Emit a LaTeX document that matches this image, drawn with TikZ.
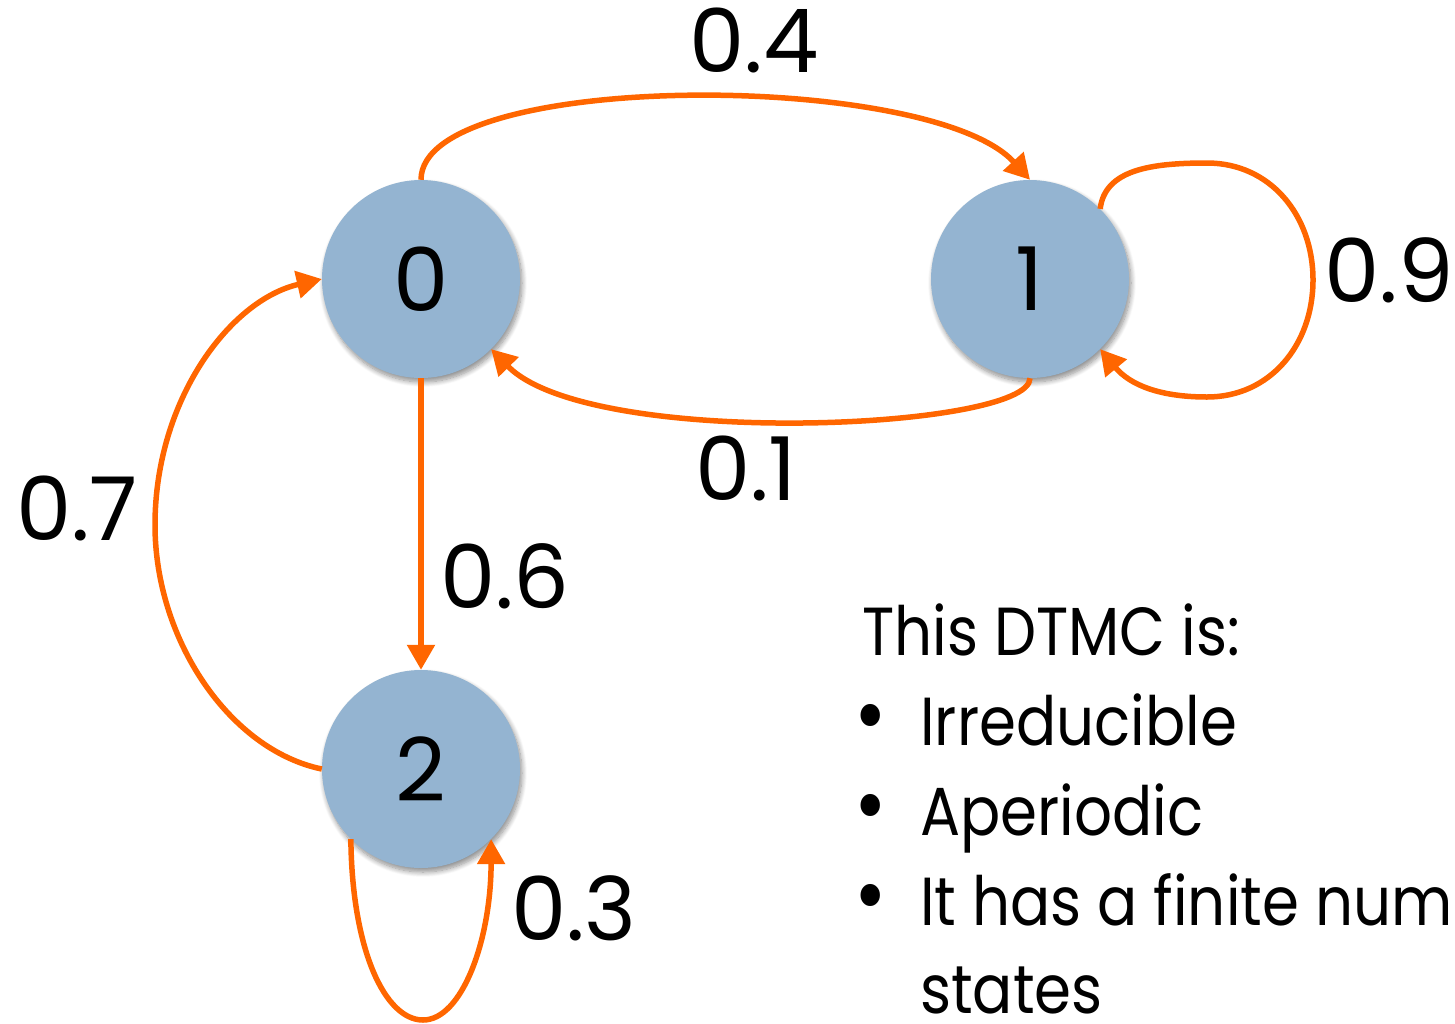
\documentclass[tikz,border=0pt]{standalone}
\usepackage{fontspec}
\setmainfont{Poppins}
\newfontfamily\bodyfont[FakeStretch=0.875]{Poppins}
\usetikzlibrary{arrows.meta,shadows.blur}
\definecolor{edgeorange}{HTML}{FF6600}
\definecolor{statefill}{HTML}{94B4D1}

\begin{document}
\begin{tikzpicture}[x=1pt,y=-1pt,
  state/.style={circle, fill=statefill, minimum size=198pt, inner sep=0pt,
    font=\fontsize{88}{88}\selectfont,
    blur shadow={shadow xshift=2pt, shadow yshift=-4pt, shadow blur radius=5pt,
      shadow blur steps=10, shadow opacity=45}},
  trans/.style={draw=edgeorange, line width=5.5pt, -{Triangle[length=25pt,width=27pt]}},
  prob/.style={font=\fontsize{88}{88}\selectfont, inner sep=0pt, anchor=base},
  body/.style={font=\bodyfont\fontsize{68}{68}\selectfont, inner sep=0pt, anchor=base west},
  bullet/.style={font=\bodyfont\fontsize{90}{90}\selectfont, inner sep=0pt, anchor=base}]
\clip (0,0) rectangle (1455,1023);

% states
\node[state] (n0) at (421,279) {0};
\node[state] (n1) at (1030,279) {1};
\node[state] (n2) at (421,769) {2};

% transitions
\draw[trans] (n0.north) .. controls (421,70) and (930,70) .. (n1.north);
\draw[trans] (n1.south) .. controls (1030,430) and (590,450) .. (n0.-45);
\draw[trans] (n1.45) .. controls (1105,170) and (1150,163) .. (1207,163)
  .. controls (1270,163) and (1313,215) .. (1313,280)
  .. controls (1313,345) and (1270,397) .. (1207,397)
  .. controls (1160,397) and (1130,385) .. (n1.-45);
\draw[trans] (n0.south) -- (n2.north);
\draw[trans] (n2.west) .. controls (230,750) and (155,640) .. (155,525)
  .. controls (155,400) and (230,300) .. (n0.west);
\draw[trans] (n2.-135) .. controls (352,950) and (385,1020) .. (423,1020)
  .. controls (462,1020) and (491,940) .. (n2.-45);

% transition probabilities
\node[prob] (p01) at (754,72) {0.4};
\node[prob] (p10) at (746,500) {0.1};
\node[prob] (p11) at (1389,302) {0.9};
\node[prob] (p02) at (505,608) {0.6};
\node[prob] (p20) at (77,540) {0.7};
\node[prob] (p22) at (574,940) {0.3};

% properties of the chain
\node[body] (title) at (862,655) {This DTMC is:};
\node[bullet] (d1) at (871,745) {•};
\node[body] (t1) at (920,745) {Irreducible};
\node[bullet] (d2) at (871,835) {•};
\node[body] (t2) at (920,835) {Aperiodic};
\node[bullet] (d3) at (871,925) {•};
\node[body] (t3) at (920,925) {It has a finite number of};
\node[body] (t4) at (920,1013) {states};
\end{tikzpicture}
\end{document}
